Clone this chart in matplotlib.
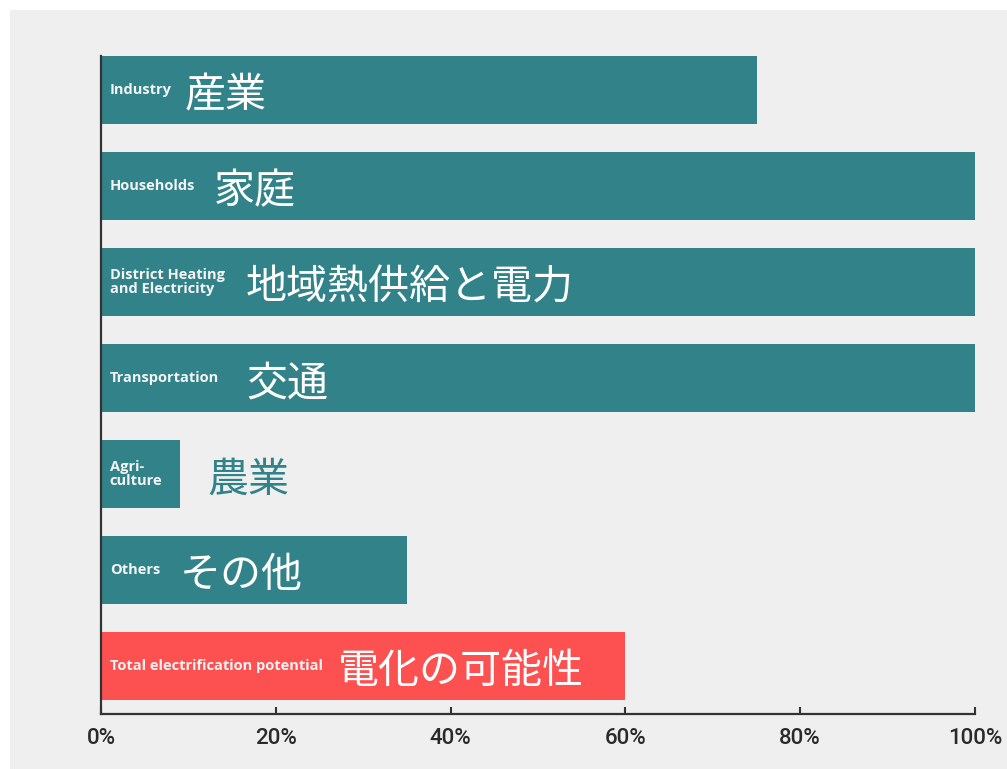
import matplotlib
matplotlib.use("Agg")
import matplotlib.pyplot as plt
from matplotlib.patches import Rectangle
from matplotlib.ticker import FuncFormatter

categories_en = ["Industry", "Households", "District Heating\nand Electricity",
                 "Transportation", "Agri-\nculture", "Others",
                 "Total electrification potential"]
categories_ja = ["産業", "家庭", "地域熱供給と電力", "交通", "農業", "その他", "電化の可能性"]
values = [75, 100, 100, 100, 9, 35, 60]
xticks = [0, 20, 40, 60, 80, 100]

TEAL = "#318389"
RED = "#fd5050"
BG = "#efefef"
colors = [TEAL] * 6 + [RED]
ja_x = [9.6, 12.9, 16.6, 16.6, 12.2, 9.0, 27.1]
ja_colors = ["white", "white", "white", "white", TEAL, "white", "white"]

fig = plt.figure(figsize=(10.07, 7.69), dpi=100)
fig.patch.set_facecolor("white")
fig.patches.append(Rectangle((10 / 1007, 0), 1, 1 - 10 / 769, transform=fig.transFigure,
                             facecolor=BG, edgecolor="none", zorder=-10))

ax = fig.add_axes([101 / 1007, (769 - 714) / 769, (975 - 101) / 1007, (714 - 56) / 769])
ax.set_facecolor(BG)

ypos = list(range(len(values)))
ax.barh(ypos, values, height=0.71, color=colors, edgecolor="none", zorder=2)
ax.set_ylim(6.5, -0.355)
ax.set_xlim(0, 100)

for y, en, ja, jx, jc in zip(ypos, categories_en, categories_ja, ja_x, ja_colors):
    ax.text(1.0, y, en, ha="left", va="center", color="#f4f4f4", fontsize=10.5,
            fontweight="bold", family=["Open Sans", "DejaVu Sans"], linespacing=0.95, zorder=3)
    ax.text(jx, y + 0.06, ja, ha="left", va="center", color=jc, fontsize=29.5,
            family=["Noto Sans CJK JP", "DejaVu Sans"], zorder=3)

ax.set_yticks([])
ax.set_xticks(xticks)
ax.xaxis.set_major_formatter(FuncFormatter(lambda v, p: f"{int(v)}%"))
ax.tick_params(axis="x", direction="in", length=5, width=1.5, color="#333333",
               labelsize=16, labelcolor="#2a2a2a", pad=10)
for lab in ax.get_xticklabels():
    lab.set_family(["Roboto", "DejaVu Sans"])
    lab.set_fontweight("medium")

for s in ["top", "right"]:
    ax.spines[s].set_visible(False)
for s in ["left", "bottom"]:
    ax.spines[s].set_color("#333333")
    ax.spines[s].set_linewidth(1.6)
ax.spines["left"].set_zorder(4)

fig.savefig("out.png", dpi=100, facecolor=fig.get_facecolor())
